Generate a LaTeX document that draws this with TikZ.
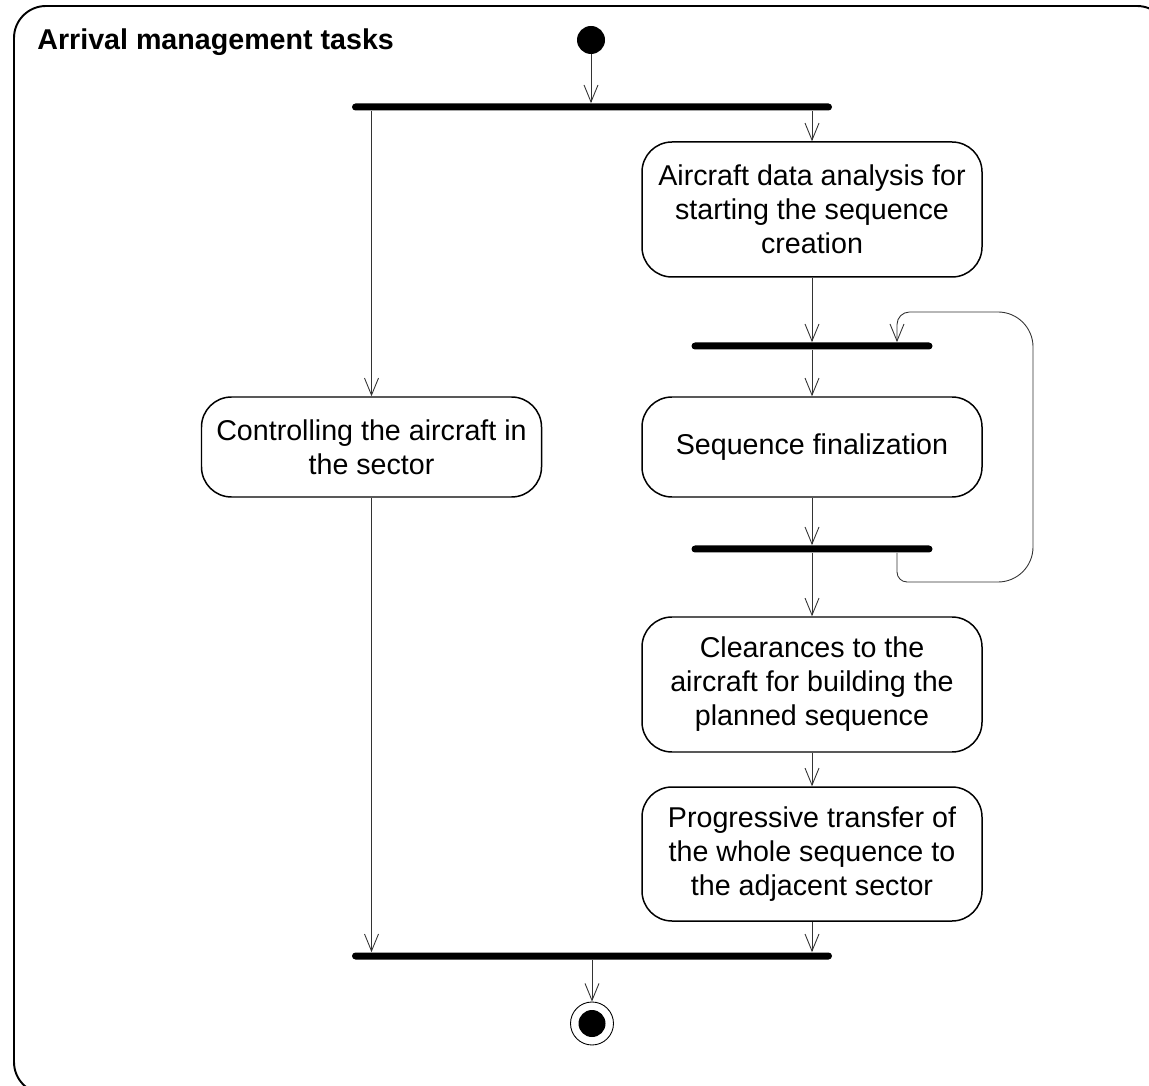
\documentclass[tikz,border=0pt]{standalone}
\usepackage{fontspec}
\setmainfont{Liberation Sans}
\usetikzlibrary{arrows.meta,positioning}

\begin{document}
\begin{tikzpicture}[on grid,>={Straight Barb[length=0.34cm,width=0.28cm]},
activity/.style={draw,rounded corners=0.6cm,line width=0.85pt,minimum width=6.8cm,
    align=center,inner sep=0pt,font=\fontsize{16.3}{19.4}\selectfont},
bar/.style={fill,rounded corners=0.07cm,minimum height=0.14cm,inner sep=0pt},
flow/.style={->,line width=0.5pt,black!80},
startstate/.style={circle,fill,minimum size=0.56cm,inner sep=0pt},
endstate/.style={circle,draw,line width=0.5pt,minimum size=0.86cm,inner sep=0pt,
    path picture={\fill (path picture bounding box.center) circle (0.27cm);}}
    ]
\useasboundingbox (0,0) rectangle (22.98,-21.72);
\clip (0,0) rectangle (22.98,-21.72);
\draw[line width=1.1pt,rounded corners=0.64cm] (0.28,-0.12) rectangle (23.38,-21.88);
\node[anchor=base west,inner sep=0pt,font=\bfseries\fontsize{16.3}{19.4}\selectfont]
    (title) at (0.74,-1.0) {Arrival management tasks};

\node[startstate] (init) at (11.82,-0.8) {};
\node[bar,minimum width=9.6cm] (fork) at (11.84,-2.14) {};
\node[activity,minimum height=2.7cm] (analysis) at (16.24,-4.19)
    {Aircraft data analysis for\\starting the sequence\\creation};
\node[bar,minimum width=4.82cm] (loopin) [below=2.73cm of analysis] {};
\node[activity,minimum height=2cm] (finalize) [below=2.02cm of loopin] {Sequence finalization};
\node[bar,minimum width=4.82cm] (loopout) [below=2.04cm of finalize] {};
\node[activity,minimum height=2.7cm] (clearances) [below=2.71cm of loopout]
    {Clearances to the\\aircraft for building the\\planned sequence};
\node[activity,minimum height=2.68cm] (transfer) [below=3.39cm of clearances]
    {Progressive transfer of\\the whole sequence to\\the adjacent sector};
\node[activity,minimum height=2cm] (control) at (7.43,-8.94)
    {Controlling the aircraft in\\the sector};
\node[bar,minimum width=9.6cm] (join) at (11.84,-19.12) {};
\node[endstate] (final) [below=1.35cm of join] {};

% loop back from the second bar to the first one
\coordinate (loopBL) at (17.94,-11.64);
\coordinate (loopBR) at (20.66,-11.64);
\coordinate (loopTR) at (20.66,-6.24);
\coordinate (loopTL) at (17.94,-6.24);

\draw[flow] (init) -- (init |- fork.north);
\draw[flow] (fork.south -| analysis) -- (analysis);
\draw[flow] (fork.south -| control) -- (control);
\draw[flow] (analysis) -- (analysis |- loopin.north);
\draw[flow] (loopin.south -| finalize) -- (finalize);
\draw[flow] (finalize) -- (finalize |- loopout.north);
\draw[flow] (loopout.south -| clearances) -- (clearances);
\draw[flow] (clearances) -- (transfer);
\draw[flow] (transfer) -- (transfer |- join.north);
\draw[flow] (control) -- (control |- join.north);
\draw[flow] (join.south -| final) -- (final);
\draw[flow] (loopout.south -| loopBL) [rounded corners=0.2cm] -- (loopBL)
    [rounded corners=0.7cm] -- (loopBR) -- (loopTR)
    [rounded corners=0.25cm] -- (loopTL) -- (loopin.north -| loopTL);
\end{tikzpicture}
\end{document}
